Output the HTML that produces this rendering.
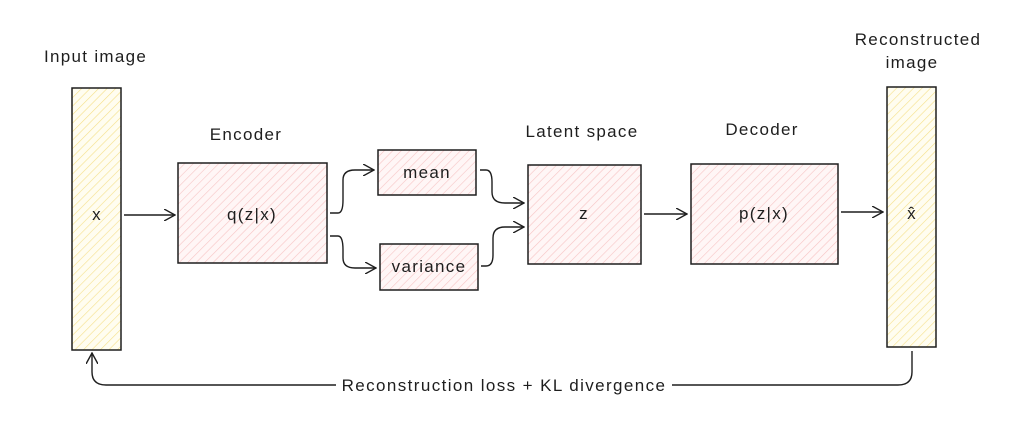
<!DOCTYPE html>
<html><head><meta charset="utf-8"><style>
html,body{margin:0;padding:0;background:#fff;}
svg{display:block;}
text{font-family:"Liberation Sans",sans-serif;fill:#1e1e1e;font-size:17px;letter-spacing:1.3px;}
</style></head><body>
<svg width="1009" height="430" viewBox="0 0 1009 430">
<defs>
<pattern id="hy" width="6" height="6" patternUnits="userSpaceOnUse" patternTransform="rotate(45)"><rect width="6" height="6" fill="#fffdf0"/><line x1="0" y1="0" x2="0" y2="6" stroke="#f5e08a" stroke-width="1.2"/></pattern>
<pattern id="hr" width="6" height="6" patternUnits="userSpaceOnUse" patternTransform="rotate(45)"><rect width="6" height="6" fill="#fff6f6"/><line x1="0" y1="0" x2="0" y2="6" stroke="#f7c4c4" stroke-width="1.2"/></pattern>
<marker id="ar" markerWidth="12" markerHeight="12" refX="11" refY="6" orient="auto" markerUnits="userSpaceOnUse"><path d="M0,0 L11,6 L0,12" fill="none" stroke="#1e1e1e" stroke-width="1.4"/></marker>
</defs>
<g stroke="#1e1e1e" stroke-width="1.5">
<rect x="72" y="88" width="49" height="262" fill="url(#hy)"/>
<rect x="178" y="163" width="149" height="100" fill="url(#hr)"/>
<rect x="378" y="150" width="98" height="45" fill="url(#hr)"/>
<rect x="380" y="244" width="98" height="46" fill="url(#hr)"/>
<rect x="528" y="165" width="113" height="99" fill="url(#hr)"/>
<rect x="691" y="164" width="147" height="100" fill="url(#hr)"/>
<rect x="887" y="87" width="49" height="260" fill="url(#hy)"/>
</g>
<g fill="none" stroke="#1e1e1e" stroke-width="1.4" marker-end="url(#ar)">
<path d="M124,215 L175,215"/>
<path d="M330,213 L338,213 Q343,213 343,200 L343,180 Q343,170 355,170 L374,170"/>
<path d="M330,236 L338,236 Q343,236 343,250 L343,258 Q343,268 355,268 L376,268"/>
<path d="M480,170 L486,170 Q492,170 492,182 L492,192 Q492,203 505,203 L524,203"/>
<path d="M481,266 L486,266 Q493,266 493,255 L493,238 Q493,227 505,227 L524,227"/>
<path d="M644,214 L687,214"/>
<path d="M841,212 L883,212"/>
<path d="M912,351 L912,372 Q912,385 898,385 L672,385 M336,385 L106,385 Q92,385 92,372 L92,353"/>
</g>
<text x="44" y="62">Input image</text>
<text x="246" y="140" text-anchor="middle">Encoder</text>
<text x="582" y="137" text-anchor="middle">Latent space</text>
<text x="762" y="135" text-anchor="middle">Decoder</text>
<text x="918" y="45" text-anchor="middle">Reconstructed</text>
<text x="912" y="68" text-anchor="middle">image</text>
<text x="97" y="220" text-anchor="middle">x</text>
<text x="252" y="220" text-anchor="middle">q(z|x)</text>
<text x="427" y="178" text-anchor="middle">mean</text>
<text x="429" y="272" text-anchor="middle">variance</text>
<text x="584" y="219" text-anchor="middle">z</text>
<text x="764" y="219" text-anchor="middle">p(z|x)</text>
<text x="912" y="219" text-anchor="middle">x̂</text>
<text x="504" y="391" text-anchor="middle" style="font-size:17px;letter-spacing:1.4px">Reconstruction loss + KL divergence</text>
</svg>
</body></html>
